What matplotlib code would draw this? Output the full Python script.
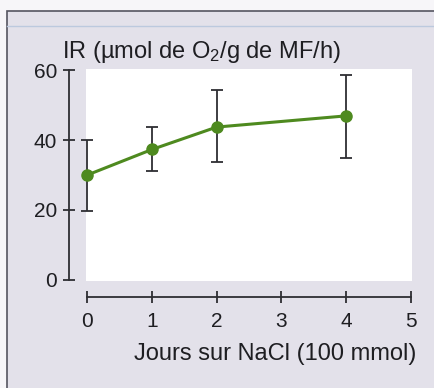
import matplotlib.pyplot as plt
from matplotlib.patches import Rectangle
from matplotlib.lines import Line2D

plt.rcParams['font.family'] = ['Liberation Sans', 'DejaVu Sans']
plt.rcParams['mathtext.default'] = 'regular'

# data
days = [0, 1, 2, 4]
ir = [30.0, 37.3, 43.7, 46.9]
err_low = [19.8, 31.1, 33.6, 35.0]
err_high = [40.0, 43.8, 54.3, 58.6]
xticks = [0, 1, 2, 3, 4, 5]
yticks = [0, 20, 40, 60]

W, H = 435, 388
bg = '#e3e1ea'
green = '#4e8a1f'
dark = '#2e2e33'

fig = plt.figure(figsize=(W / 100, H / 100), dpi=100)
fig.patch.set_facecolor('#f7f6f9')

# panel with frame, kept behind the axes
fig.patches.append(Rectangle((7 / W, -0.05), 1.1, (H - 11) / H + 0.05,
                             transform=fig.transFigure, facecolor=bg,
                             edgecolor='#555560', linewidth=1.2, zorder=-2))
fig.lines.append(Line2D([7 / W, 1], [(H - 26) / H, (H - 26) / H],
                        transform=fig.transFigure, color='#bcc9de',
                        linewidth=1.0, zorder=-1))

ax = fig.add_axes([86 / W, (H - 281) / H, (412 - 86) / W, (281 - 69) / H])
ax.set_facecolor('white')

lo = [v - l for v, l in zip(ir, err_low)]
hi = [h - v for v, h in zip(ir, err_high)]
ax.errorbar(days, ir, yerr=[lo, hi], fmt='none', ecolor=dark,
            elinewidth=1.3, capsize=4, capthick=1.3, zorder=2, clip_on=False)
ax.plot(days, ir, color=green, linewidth=2.2, marker='o', markersize=8,
        zorder=3, clip_on=False)

ax.set_xlim(-0.02, 5.02)
ax.set_ylim(-0.3, 60.3)
ax.set_xticks(xticks)
ax.set_yticks(yticks)

for s in ['top', 'right']:
    ax.spines[s].set_visible(False)
ax.spines['left'].set_position(('outward', 12.3))
ax.spines['bottom'].set_position(('outward', 11.5))
ax.spines['left'].set_bounds(0, 60)
ax.spines['bottom'].set_bounds(0, 5)
for s in ['left', 'bottom']:
    ax.spines[s].set_color(dark)
    ax.spines[s].set_linewidth(1.3)

ax.tick_params(axis='both', direction='inout', length=9, width=1.3,
               color=dark, labelcolor='#1e1e22', labelsize=15)
ax.tick_params(axis='x', pad=6)
ax.tick_params(axis='y', pad=4)

fig.text(62 / W, (H - 58) / H, 'IR (µmol de O$_2$/g de MF/h)',
         fontsize=17, color='#1e1e22', va='baseline', ha='left')
fig.text(416 / W, (H - 360) / H, 'Jours sur NaCl (100 mmol)',
         fontsize=17, color='#1e1e22', va='baseline', ha='right')

fig.savefig('out.png', dpi=100, facecolor=fig.get_facecolor())
